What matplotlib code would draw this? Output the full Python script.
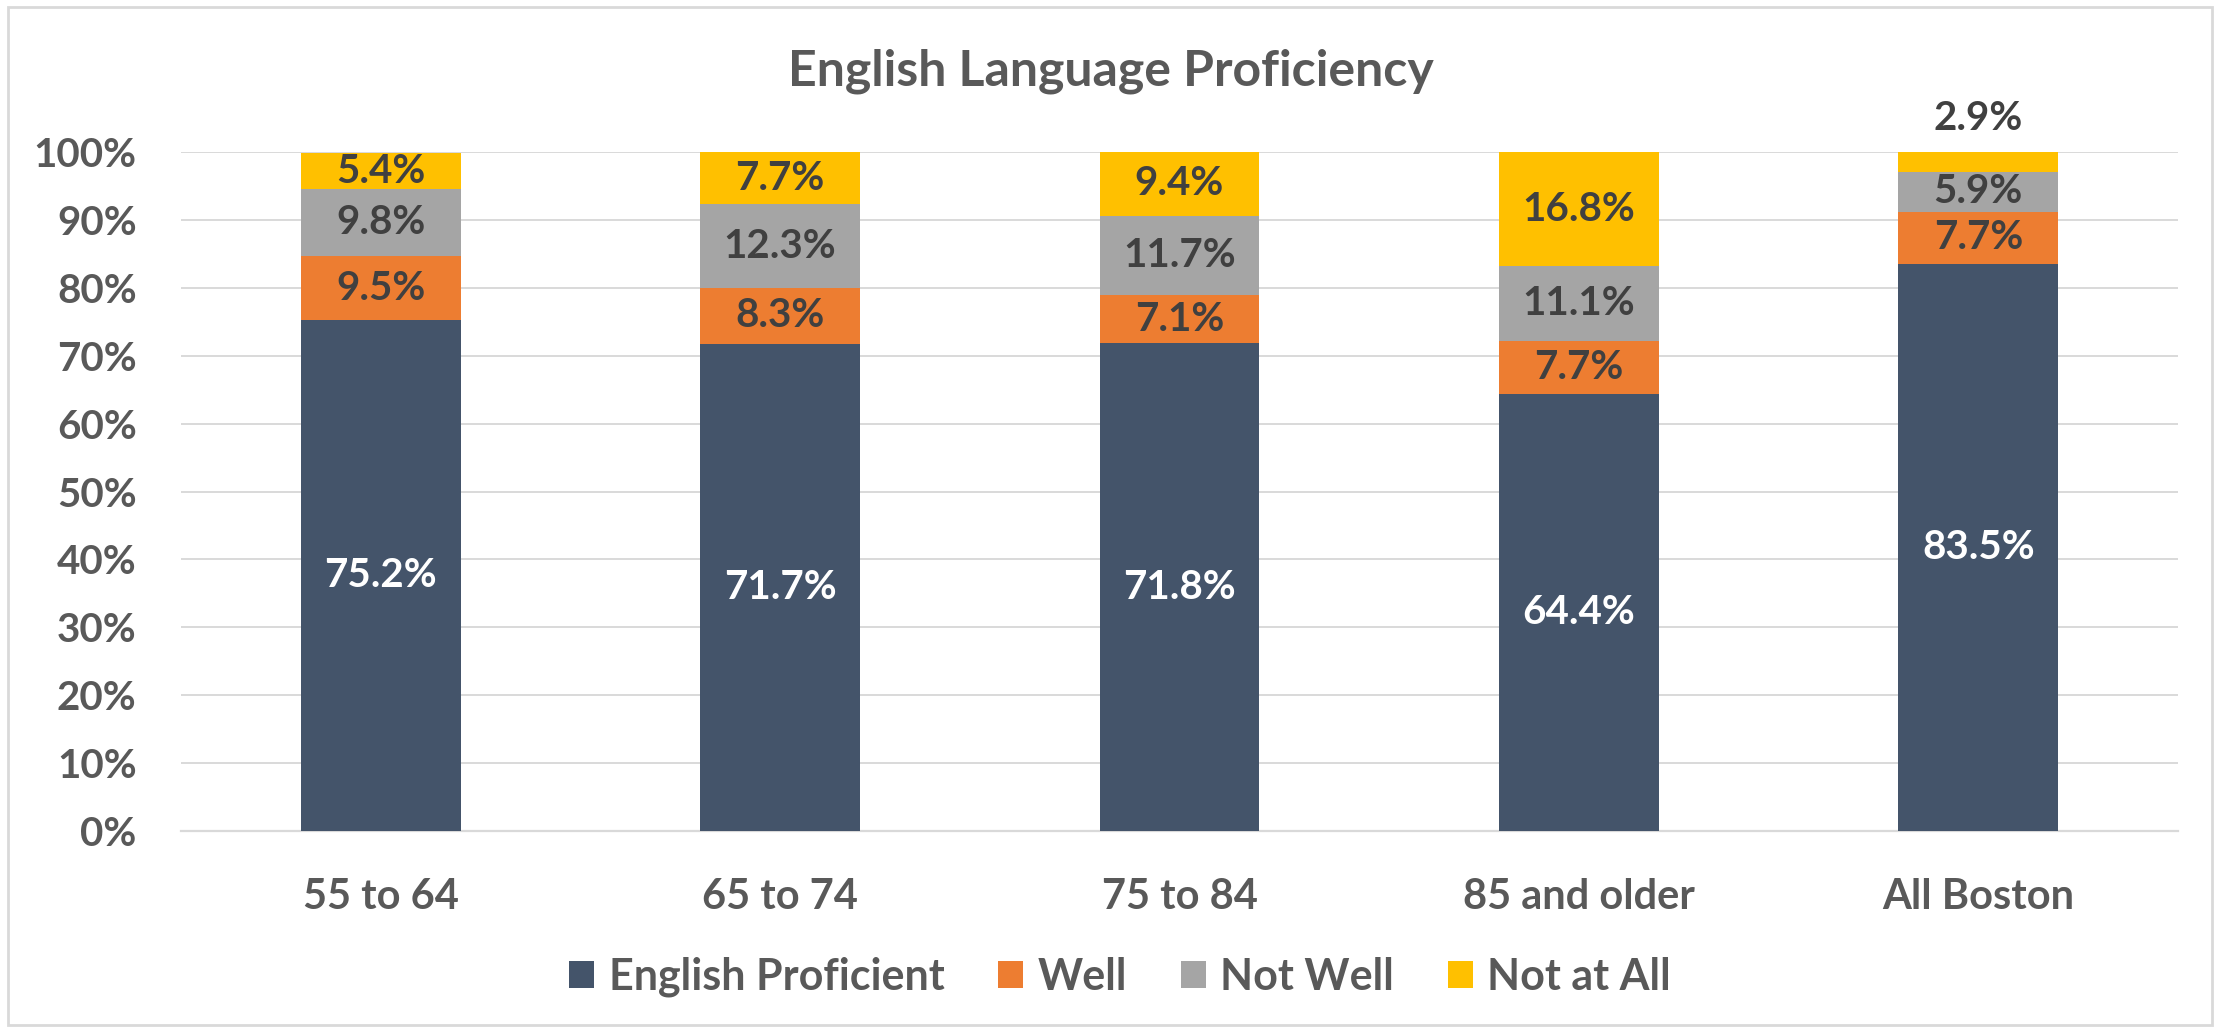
import matplotlib.pyplot as plt
from matplotlib.patches import Rectangle
from matplotlib.ticker import PercentFormatter
import numpy as np

categories = ['55 to 64', '65 to 74', '75 to 84', '85 and older', 'All Boston']
proficient = [75.2, 71.7, 71.8, 64.4, 83.5]
well = [9.5, 8.3, 7.1, 7.7, 7.7]
not_well = [9.8, 12.3, 11.7, 11.1, 5.9]
not_at_all = [5.4, 7.7, 9.4, 16.8, 2.9]

series_names = ['English Proficient', 'Well', 'Not Well', 'Not at All']
colors = ['#44546A', '#ED7D31', '#A5A5A5', '#FFC000']
label_colors = ['white', '#404040', '#404040', '#404040']

plt.rcParams['font.family'] = ['Lato', 'DejaVu Sans']
plt.rcParams['font.weight'] = 'bold'

grey_txt = '#595959'
fs = 29

fig = plt.figure(figsize=(22.21, 10.31), dpi=100)
ax = fig.add_axes([181 / 2221, 1 - 831 / 1031, (2178 - 181) / 2221, (831 - 152) / 1031])

x = np.arange(len(categories))
bottom = np.zeros(len(categories))
series = [proficient, well, not_well, not_at_all]
for name, vals, col, lcol in zip(series_names, series, colors, label_colors):
    vals = np.array(vals)
    bars = ax.bar(x, vals, 0.4, bottom=bottom, color=col, label=name, zorder=3)
    labels = [f'{v:.1f}%' for v in vals]
    if name == 'Not at All':
        # last bar's label sits above the bar
        labels[-1] = ''
        ax.text(x[-1], bottom[-1] + vals[-1] + 5, f'{vals[-1]:.1f}%', ha='center', va='center',
                fontsize=fs, fontweight='bold', color='#404040')
    ax.bar_label(bars, labels=labels, label_type='center', fontsize=fs,
                 fontweight='bold', color=lcol)
    bottom += vals

ax.set_xlim(-0.5, len(categories) - 0.5)
ax.set_ylim(0, 100)
ax.set_yticks(np.arange(0, 101, 10))
ax.yaxis.set_major_formatter(PercentFormatter(decimals=0))
ax.set_xticks(x)
ax.set_xticklabels(categories)
ax.tick_params(axis='y', length=0, pad=32, labelsize=fs, labelcolor=grey_txt)
ax.tick_params(axis='x', length=0, pad=34, labelsize=30, labelcolor=grey_txt)
ax.grid(axis='y', color='#D9D9D9', linewidth=1.4, zorder=0)
for s in ['top', 'right', 'left']:
    ax.spines[s].set_visible(False)
ax.spines['bottom'].set_color('#D9D9D9')
ax.spines['bottom'].set_linewidth(1.6)

fig.text(0.5, 1 - 85 / 1031, 'English Language Proficiency', ha='center', va='baseline',
         fontsize=36, fontweight='bold', color=grey_txt)

fig.legend(loc='center', bbox_to_anchor=(1120 / 2221, 1 - 977 / 1031), ncol=4, frameon=False,
           fontsize=31, labelcolor=grey_txt, handlelength=0.58, handleheight=0.58,
           handletextpad=0.33, columnspacing=1.25)

fig.patches.append(Rectangle((8 / 2221, 6 / 1031), 2204 / 2221, 1018 / 1031,
                             transform=fig.transFigure, fill=False,
                             edgecolor='#D9D9D9', linewidth=2))

fig.savefig('out.png', dpi=100, facecolor='white')
